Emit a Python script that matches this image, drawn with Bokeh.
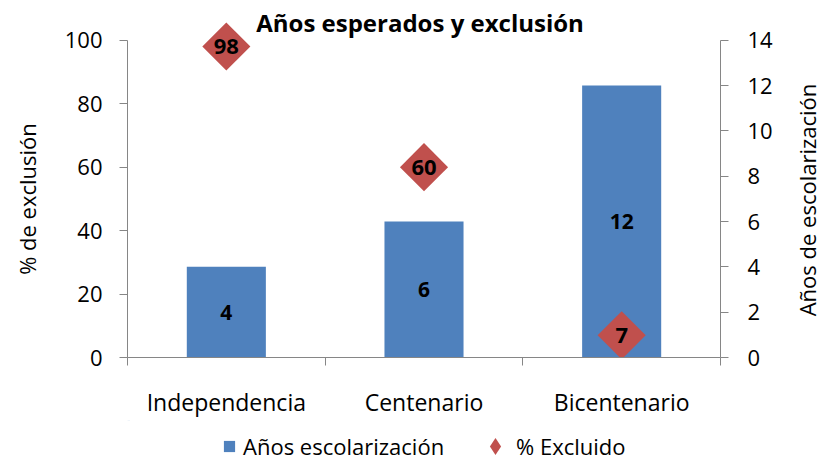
from bokeh.plotting import figure
from bokeh.layouts import row, column
from bokeh.models import (Range1d, LinearAxis, FixedTicker, Legend, LegendItem,
                          ColumnDataSource, Label)
from bokeh.core.properties import value
from bokeh.embed import file_html
from bokeh.resources import INLINE
import math

categories = ["Independencia", "Centenario", "Bicentenario"]
anos_escolarizacion = [4, 6, 12]
pct_excluido = [98, 60, 7]
left_ticks = [0, 20, 40, 60, 80, 100]
right_ticks = [0, 2, 4, 6, 8, 10, 12, 14]

FONT = "Open Sans"
AXIS_COLOR = "#868686"
BLUE = "#4F81BD"
RED = "#C0504D"
HEADROOM = 1.10  # frame extends above the axis maximum so markers are not clipped


def blank(w, h):
    f = figure(width=w, height=h, output_backend="svg", toolbar_location=None,
               x_range=Range1d(0, w), y_range=Range1d(0, h),
               min_border=0, min_border_left=0, min_border_right=0,
               min_border_top=0, min_border_bottom=0)
    f.axis.visible = False
    f.grid.visible = False
    f.outline_line_color = None
    f.background_fill_color = "white"
    f.border_fill_color = "white"
    return f


xpos = [i + 0.5 for i in range(len(categories))]
src = ColumnDataSource(dict(
    x=xpos,
    anos=anos_escolarizacion,
    anos_mid=[v / 2 for v in anos_escolarizacion],
    anos_lbl=[str(v) for v in anos_escolarizacion],
    pct=pct_excluido,
    pct_lbl=[str(v) for v in pct_excluido],
))

lmax, rmax = max(left_ticks), max(right_ticks)
p = figure(width=740, height=420, output_backend="svg", toolbar_location=None,
           x_range=Range1d(0, len(categories)), y_range=Range1d(0, lmax * HEADROOM),
           min_border_left=77, min_border_right=70, min_border_top=8,
           min_border_bottom=62)
p.outline_line_color = None
p.xgrid.visible = False
p.ygrid.visible = False
p.background_fill_color = "white"
p.border_fill_color = "white"

p.extra_y_ranges = {"right": Range1d(0, rmax * HEADROOM)}

# bars
bar_style = dict(width=0.4, fill_color=BLUE, line_color=None)
p.vbar(x="x", top="anos", source=src, y_range_name="right", **bar_style)
p.text(x="x", y="anos_mid", text="anos_lbl", source=src, y_range_name="right",
       text_align="center", text_baseline="middle", text_font=value(FONT),
       text_font_size="21px", text_font_style="bold", text_color="black")

# diamonds (rotated squares)
p.scatter(x="x", y="pct", source=src, size=34, marker="square", angle=math.pi / 4,
          fill_color=RED, line_color=None)
p.text(x="x", y="pct", text="pct_lbl", source=src,
       text_align="center", text_baseline="middle", text_font=value(FONT),
       text_font_size="22px", text_font_style="bold", text_color="black")

# title
p.add_layout(Label(x=1.48, y=105.7, text="Años esperados y exclusión",
                   text_align="center", text_baseline="middle",
                   text_font=FONT, text_font_size="24px", text_font_style="bold",
                   text_color="black"))

# x axis
xa = p.xaxis[0]
xa.ticker = FixedTicker(ticks=xpos, minor_ticks=[0, 1, 2, 3])
xa.major_label_overrides = {x: c for x, c in zip(xpos, categories)}
xa.major_tick_line_color = None
xa.minor_tick_line_color = AXIS_COLOR
xa.minor_tick_out = 8
xa.minor_tick_in = 0
xa.axis_line_color = AXIS_COLOR
xa.major_label_text_font = FONT
xa.major_label_text_font_size = "23px"
xa.major_label_text_color = "black"
xa.major_label_standoff = 20

# left axis
ya = p.yaxis[0]
ya.ticker = FixedTicker(ticks=left_ticks)
ya.bounds = (0, lmax)
ya.minor_tick_line_color = None
ya.major_tick_line_color = AXIS_COLOR
ya.major_tick_out = 8
ya.major_tick_in = 0
ya.axis_line_color = AXIS_COLOR
ya.major_label_text_font = FONT
ya.major_label_text_font_size = "22px"
ya.major_label_text_color = "black"
ya.major_label_standoff = 17

# right axis
ra = LinearAxis(y_range_name="right", ticker=FixedTicker(ticks=right_ticks),
                bounds=(0, rmax))
ra.minor_tick_line_color = None
ra.major_tick_line_color = AXIS_COLOR
ra.major_tick_out = 8
ra.major_tick_in = 0
ra.axis_line_color = AXIS_COLOR
ra.major_label_text_font = FONT
ra.major_label_text_font_size = "22px"
ra.major_label_text_color = "black"
ra.major_label_standoff = 19
p.add_layout(ra, "right")

# axis titles (rotated, reading bottom-to-top like the reference)
left_fig = blank(50, 461)
left_fig.add_layout(Label(x=26, y=461 - 198.5, text="% de exclusión", angle=math.pi / 2,
                          text_align="center", text_baseline="middle",
                          text_font=FONT, text_font_size="22px", text_color="black"))
right_fig = blank(40, 461)
right_fig.add_layout(Label(x=16, y=461 - 199.5, text="Años de escolarización",
                           angle=math.pi / 2, text_align="center", text_baseline="middle",
                           text_font=FONT, text_font_size="22px", text_color="black"))

# legend strip (the series are drawn again on a range that lies off-screen,
# so only their legend glyphs appear)
leg_fig = blank(740, 41)
leg_fig.extra_y_ranges = {"off": Range1d(-2000, -1900)}
r_bar = leg_fig.vbar(x="x", top="anos", source=src, y_range_name="off", **bar_style)
r_dia = leg_fig.scatter(x="x", y="pct", source=src, size=34, y_range_name="off",
                        marker="diamond", fill_color=RED, line_color=None)
leg_common = dict(orientation="horizontal", label_text_font=FONT,
                  label_text_font_size="22px", label_text_color="black",
                  border_line_color=None, background_fill_alpha=0, padding=0, margin=0)
legend1 = Legend(items=[LegendItem(label="Años escolarización", renderers=[r_bar])],
                 location=(95, 0), glyph_width=14, glyph_height=14,
                 label_standoff=7, **leg_common)
legend2 = Legend(items=[LegendItem(label="% Excluido", renderers=[r_dia])],
                 location=(347, -6), glyph_width=42, glyph_height=42,
                 label_standoff=0, **leg_common)
leg_fig.add_layout(legend1, "center")
leg_fig.add_layout(legend2, "center")

layout = row(left_fig, column(p, leg_fig, spacing=0), right_fig, spacing=0)
open("out.html", "w").write(file_html(layout, INLINE))
